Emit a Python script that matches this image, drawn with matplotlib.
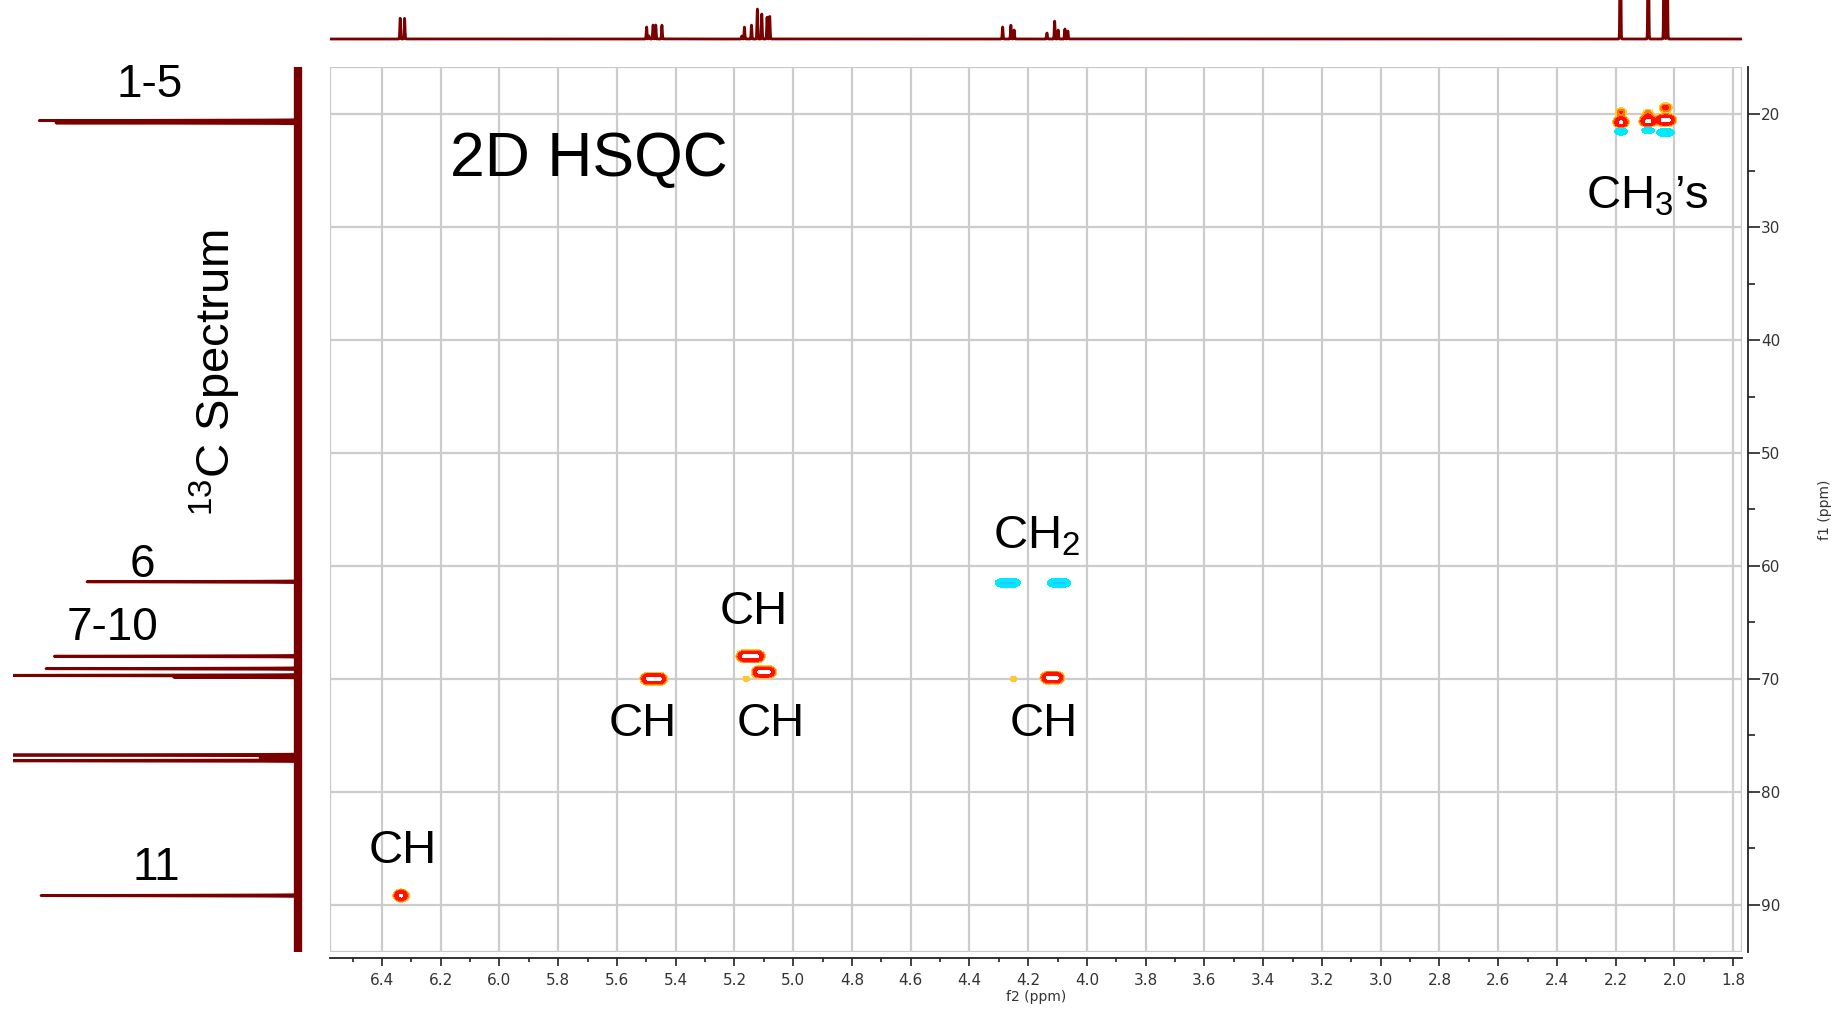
import numpy as np
import matplotlib
matplotlib.use("Agg")
import matplotlib.pyplot as plt
from matplotlib.patches import Rectangle
from matplotlib.ticker import MultipleLocator, FormatStrFormatter

# ---------------- data ----------------
# 1H spectrum (top trace): peak positions (ppm) and heights (arbitrary units)
h1_ppm = [6.338, 6.323, 5.499, 5.491, 5.477, 5.468, 5.447,
          5.175, 5.166, 5.142, 5.122, 5.107, 5.089, 5.080,
          4.287, 4.259, 4.248, 4.136, 4.110, 4.098, 4.075, 4.065,
          2.184, 2.089, 2.035, 2.025]
h1_height = [21, 21, 12, 3, 14, 14, 14,
             3, 12, 14, 30, 25, 22, 23,
             12, 14, 9, 6, 18, 9, 10, 8,
             200, 200, 200, 200]

# 13C spectrum (left trace): peak positions (ppm) and intensities
c13_ppm = [20.55, 20.75, 61.4, 68.0, 69.1, 69.7, 69.85, 76.75, 77.0, 77.25, 89.2]
c13_int = [259, 243, 211, 245, 252, 320, 125, 400, 38, 400, 257]

# HSQC cross peaks: f2 (ppm), f1 (ppm), amplitude (+ CH/CH3, - CH2), half-width in f2 (ppm)
hsqc_f2 = [6.335, 5.475, 5.145, 5.100, 4.118, 2.182, 2.090, 2.030,
           5.160, 4.250,
           4.270, 4.095,
           2.182, 2.090, 2.030, 2.030, 2.182, 2.090]
hsqc_f1 = [89.2, 70.0, 68.0, 69.4, 69.9, 20.7, 20.6, 20.5,
           70.0, 70.0,
           61.5, 61.5,
           21.5, 21.4, 21.6, 19.4, 19.8, 19.9]
hsqc_amp = [1.0, 1.0, 1.0, 1.0, 1.0, 1.0, 1.0, 1.0,
            0.12, 0.12,
            -1.0, -1.0,
            -0.6, -0.5, -0.7, 0.3, 0.25, 0.2]
hsqc_hw = [0.0, 0.019, 0.022, 0.015, 0.014, 0.0, 0.003, 0.009,
           0.0, 0.0,
           0.017, 0.013,
           0.0, 0.0, 0.006, 0.002, 0.0, 0.0]

peak_labels = ["CH", "CH", "CH", "CH", "CH", "CH$_\\mathregular{2}$", "CH$_\\mathregular{3}$\u2019s"]
c13_labels = ["1-5", "6", "7-10", "11"]

x_major = np.round(np.arange(1.8, 6.41, 0.2), 1)
y_major = np.arange(20, 91, 10)

# ---------------- figure ----------------
W, H, DPI = 1843, 1016, 100
plt.rcParams['mathtext.fontset'] = 'custom'
plt.rcParams['mathtext.rm'] = 'Liberation Sans'
plt.rcParams['mathtext.it'] = 'Liberation Sans:italic'
plt.rcParams['font.family'] = ['Liberation Sans', 'DejaVu Sans']

fig = plt.figure(figsize=(W / DPI, H / DPI), dpi=DPI)

def box(x0, y0, x1, y1):
    return [x0 / W, 1 - y1 / H, (x1 - x0) / W, (y1 - y0) / H]

ax = fig.add_axes(box(330, 67, 1742, 952))
axt = fig.add_axes(box(330, 0, 1742, 45))
axl = fig.add_axes(box(13, 67, 310, 952))

XL = (6.577, 1.77)
YL = (94.2, 15.8)
dark = '#7a0000'

# ---- main HSQC axes ----
ax.set_xlim(*XL)
ax.set_ylim(*YL)
ax.set_xticks(x_major)
ax.xaxis.set_minor_locator(MultipleLocator(0.1))
ax.xaxis.set_major_formatter(FormatStrFormatter('%.1f'))
ax.yaxis.tick_right()
ax.yaxis.set_label_position('right')
ax.set_yticks(y_major)
ax.yaxis.set_minor_locator(MultipleLocator(5))
ax.set_axisbelow(True)
ax.grid(True, which='major', color='#cccccc', lw=1.6)

for s in ['top', 'left']:
    ax.spines[s].set_visible(False)
for s in ['bottom', 'right']:
    ax.spines[s].set_color('#222222')
    ax.spines[s].set_linewidth(1.3)
    ax.spines[s].set_position(('outward', 4.3))
ax.add_patch(Rectangle((0, 0), 1, 1, transform=ax.transAxes, fill=False,
                       ec='#c8c8c8', lw=1.6, zorder=0.5))

tick_family = ['Liberation Sans Narrow', 'DejaVu Sans']
ax.tick_params(axis='x', which='major', length=6, width=1.2, color='#222222',
               labelcolor='#333333', pad=5)
ax.tick_params(axis='x', which='minor', length=3, width=1.2, color='#222222')
ax.tick_params(axis='y', which='major', length=8.5, width=1.2, color='#222222',
               labelcolor='#333333', pad=1)
ax.tick_params(axis='y', which='minor', length=5, width=1.2, color='#222222')
for lab in ax.get_xticklabels() + ax.get_yticklabels():
    lab.set_fontfamily(tick_family)
    lab.set_fontsize(11)

ax.set_xlabel('f2 (ppm)', fontsize=10, color='#333333', family=tick_family, labelpad=1)
ax.set_ylabel('f1 (ppm)', fontsize=10, color='#333333', family=tick_family, labelpad=27)

# cross peaks
xg = np.linspace(XL[1], XL[0], 2600)
yg = np.linspace(YL[1], YL[0], 1400)
X, Y = np.meshgrid(xg, yg)
Z = np.zeros_like(X)
sx, sy_pos, sy_neg = 0.0125, 0.26, 0.19
for x0, y0, a, hw in zip(hsqc_f2, hsqc_f1, hsqc_amp, hsqc_hw):
    sy = sy_pos if a > 0 else sy_neg
    dx = np.maximum(np.abs(X - x0) - hw, 0)
    Z += a * np.exp(-0.5 * (dx / sx) ** 2 - 0.5 * ((Y - y0) / sy) ** 2)

ax.contourf(X, Y, Z, levels=[0.08, 0.14, 0.24, 0.88, Z.max() + 1],
            colors=['#ffc830', '#ff7a00', '#ff1000', 'white'], zorder=3)
ax.contourf(X, Y, Z, levels=[Z.min() - 1, -0.7, -0.12],
            colors=['#30c0ff', '#00eaff'], zorder=3)

# ---- top 1H trace ----
axt.set_xlim(*XL)
axt.set_ylim(-6, 39)
axt.axis('off')
xh = np.linspace(XL[1], XL[0], 9000)
spec1 = np.zeros_like(xh)
g = 0.0013
for p, h in zip(h1_ppm, h1_height):
    spec1 += h * np.exp(-0.5 * ((xh - p) / g) ** 2)
axt.plot(xh, spec1, color=dark, lw=2.0)

# ---- left 13C trace ----
axl.set_ylim(*YL)
axl.set_xlim(285, -12)
axl.axis('off')
yc = np.linspace(YL[1] + 0.2, YL[0] - 0.3, 12000)
spec13 = np.zeros_like(yc)
gc = 0.025
for p, h in zip(c13_ppm, c13_int):
    spec13 += h * np.exp(-0.5 * ((yc - p) / gc) ** 2)
axl.plot(spec13, yc, color=dark, lw=2.0)
axl.plot(np.zeros_like(yc), yc, color=dark, lw=6.0)

# ---------------- labels ----------------
def ftext(x, y, s, **kw):
    fig.text(x / W, 1 - y / H, s, **kw)

ftext(450, 176, '2D HSQC', fontsize=45, ha='left', va='baseline')
lab_pos = [(369, 863), (609, 736), (720, 624), (737, 736), (1010, 736), (993, 549), (1586, 208)]
for (x, y), s in zip(lab_pos, peak_labels):
    ftext(x, y, s, fontsize=34, ha='left', va='baseline')

c13_pos = [(117, 97), (130, 577), (67, 640), (132, 880)]
for (x, y), s in zip(c13_pos, c13_labels):
    ftext(x, y, s, fontsize=33, ha='left', va='baseline')

ftext(215, 373, '$^{\\mathregular{13}}$C Spectrum', fontsize=34, rotation=90,
      ha='center', va='center')

fig.savefig('out.png', dpi=DPI)
